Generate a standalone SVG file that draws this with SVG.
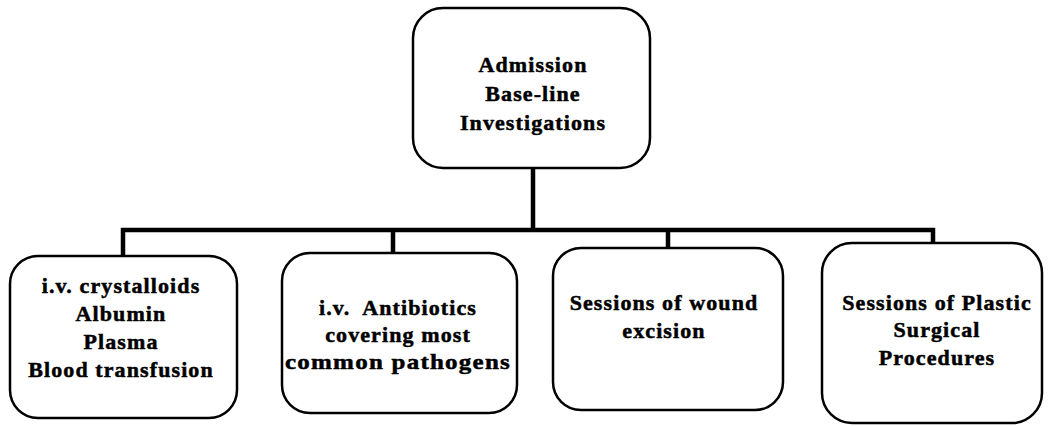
<svg xmlns="http://www.w3.org/2000/svg" width="1051" height="426" viewBox="0 0 1051 426">
<style>
.box{fill:#fff;stroke:#000;stroke-width:2.5}
.t{font-family:"Liberation Serif","Times New Roman",serif;font-weight:bold;font-size:22px;letter-spacing:1.1px;text-anchor:middle;fill:#000;stroke:#000;stroke-width:0.5}
.c{fill:none;stroke:#000;stroke-width:4.5;stroke-linejoin:miter}
</style>
<rect width="1051" height="426" fill="#fff"/>
<g id="connectors">
<path class="c" d="M533,168 V230 M123,256 V230 H933 V243 M393,230 V252 M668,230 V248"/>
</g>
<g id="node-admission">
<rect class="box" x="413" y="8" width="237" height="160" rx="30"/>
<text class="t" x="533" y="72">Admission</text>
<text class="t" x="533" y="101">Base-line</text>
<text class="t" x="533" y="130">Investigations</text>
</g>
<g id="node-fluids">
<rect class="box" x="10" y="256" width="227" height="162" rx="28"/>
<text class="t" x="121" y="293">i.v. crystalloids</text>
<text class="t" x="121" y="321">Albumin</text>
<text class="t" x="121" y="349">Plasma</text>
<text class="t" x="121" y="377">Blood transfusion</text>
</g>
<g id="node-antibiotics">
<rect class="box" x="282" y="253" width="235" height="160" rx="28"/>
<text class="t" x="398" y="315" xml:space="preserve">i.v.  Antibiotics</text>
<text class="t" x="398" y="342">covering most</text>
<text class="t" x="398" y="369" textLength="226" lengthAdjust="spacingAndGlyphs">common pathogens</text>
</g>
<g id="node-excision">
<rect class="box" x="553" y="248" width="230" height="162" rx="28"/>
<text class="t" x="664" y="310">Sessions of wound</text>
<text class="t" x="664" y="338">excision</text>
</g>
<g id="node-plastic">
<rect class="box" x="822" y="243" width="220" height="180" rx="30"/>
<text class="t" x="937" y="310">Sessions of Plastic</text>
<text class="t" x="937" y="337">Surgical</text>
<text class="t" x="937" y="365">Procedures</text>
</g>
</svg>
